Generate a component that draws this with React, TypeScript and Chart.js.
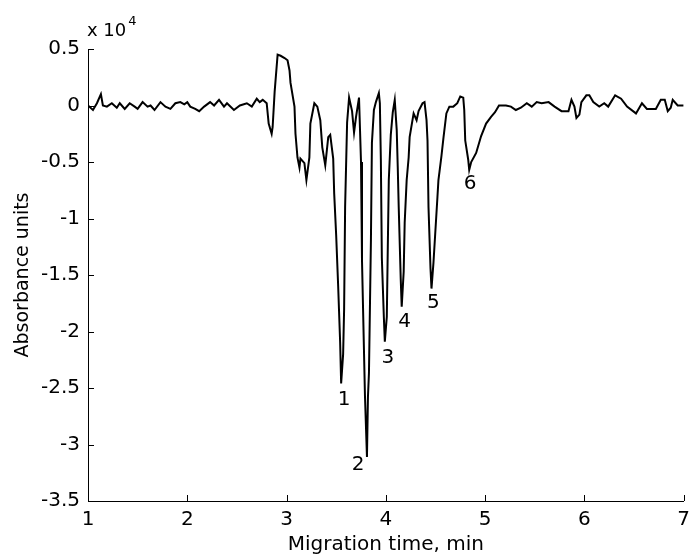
import React, { useEffect, useRef } from 'react';
import { Chart, registerables } from 'chart.js';

Chart.register(...registerables);

// Migration time (min)
const migrationTime = [
  1.00, 1.05, 1.09, 1.13, 1.15, 1.19, 1.24, 1.29, 1.32, 1.37, 1.42, 1.47, 1.50, 1.55, 1.60, 1.63,
  1.67, 1.73, 1.78, 1.83, 1.88, 1.93, 1.97, 2.00, 2.03, 2.08, 2.12, 2.17, 2.23, 2.27, 2.32, 2.37,
  2.40, 2.47, 2.53, 2.60, 2.65, 2.70, 2.73, 2.76, 2.80, 2.82, 2.85, 2.86, 2.88, 2.91, 2.94, 2.98,
  3.01, 3.03, 3.04, 3.08, 3.09, 3.11, 3.13, 3.14, 3.18, 3.20, 3.23, 3.24, 3.28, 3.31, 3.34, 3.36,
  3.39, 3.42, 3.44, 3.47, 3.48, 3.50, 3.52, 3.54, 3.55, 3.57, 3.58, 3.59, 3.61, 3.63, 3.66, 3.68,
  3.70, 3.73, 3.75, 3.76, 3.79, 3.81, 3.82, 3.83, 3.85, 3.86, 3.88, 3.90, 3.93, 3.94, 3.95, 3.96,
  3.98, 3.99, 4.01, 4.02, 4.03, 4.05, 4.07, 4.09, 4.11, 4.12, 4.13, 4.15, 4.16, 4.18, 4.19, 4.21,
  4.23, 4.24, 4.28, 4.31, 4.33, 4.37, 4.39, 4.41, 4.42, 4.43, 4.45, 4.46, 4.48, 4.50, 4.52, 4.53,
  4.56, 4.58, 4.61, 4.64, 4.68, 4.72, 4.75, 4.78, 4.79, 4.80, 4.83, 4.84, 4.86, 4.91, 4.96, 5.01,
  5.06, 5.10, 5.14, 5.21, 5.26, 5.31, 5.36, 5.42, 5.47, 5.52, 5.57, 5.64, 5.70, 5.77, 5.84, 5.87,
  5.90, 5.92, 5.95, 5.97, 6.02, 6.05, 6.09, 6.15, 6.20, 6.24, 6.31, 6.37, 6.43, 6.52, 6.58, 6.63,
  6.72, 6.77, 6.81, 6.84, 6.87, 6.89, 6.94, 6.98, 7.00,
];

// Absorbance units (x 10^4)
const absorbance = [
  0.00, -0.04, 0.02, 0.10, 0.00, -0.01, 0.02, -0.02, 0.02, -0.03, 0.02, -0.01, -0.03, 0.03, -0.01, 0.00,
  -0.04, 0.03, -0.01, -0.03, 0.02, 0.03, 0.01, 0.03, -0.01, -0.03, -0.05, -0.01, 0.03, 0.00, 0.05, -0.01,
  0.02, -0.04, 0.00, 0.02, -0.01, 0.06, 0.03, 0.05, 0.02, -0.16, -0.25, -0.19, 0.12, 0.45, 0.44, 0.42,
  0.40, 0.31, 0.20, -0.01, -0.25, -0.46, -0.55, -0.47, -0.51, -0.66, -0.46, -0.16, 0.02, -0.01, -0.13, -0.37,
  -0.53, -0.28, -0.26, -0.47, -0.78, -1.15, -1.60, -2.10, -2.46, -2.20, -1.80, -0.90, -0.15, 0.07, -0.05, -0.24,
  -0.10, 0.07, -0.50, -1.37, -2.57, -3.11, -2.58, -2.37, -1.19, -0.33, -0.04, 0.03, 0.11, 0.02, -0.48, -1.35,
  -1.87, -2.09, -1.87, -1.25, -0.66, -0.26, -0.06, 0.05, -0.22, -0.54, -0.90, -1.53, -1.78, -1.47, -1.04, -0.66,
  -0.46, -0.28, -0.07, -0.13, -0.05, 0.02, 0.03, -0.13, -0.31, -0.90, -1.44, -1.62, -1.39, -1.10, -0.81, -0.66,
  -0.45, -0.29, -0.07, -0.01, -0.01, 0.02, 0.08, 0.07, -0.04, -0.31, -0.48, -0.57, -0.50, -0.42, -0.27, -0.16,
  -0.10, -0.06, 0.00, 0.00, -0.01, -0.04, -0.02, 0.02, -0.01, 0.03, 0.02, 0.03, -0.01, -0.05, -0.05, 0.05,
  -0.01, -0.11, -0.08, 0.03, 0.09, 0.09, 0.03, -0.01, 0.02, -0.01, 0.09, 0.06, -0.01, -0.07, 0.02, -0.03,
  -0.03, 0.05, 0.05, -0.05, -0.02, 0.05, 0.00, 0.00, 0.00,
];

const peakLabels = ['1', '2', '3', '4', '5', '6'];
const peakLabelTime = [3.58, 3.72, 4.02, 4.19, 4.48, 4.85];
const peakLabelValue = [-2.60, -3.18, -2.23, -1.91, -1.75, -0.69];

const xMin = 1;
const xMax = 7;
const xStep = 1;
const yMin = -3.5;
const yMax = 0.5;
const yStep = 0.5;

const xTitle = 'Migration time, min';
const yTitle = 'Absorbance units';
const yMultiplierBase = 'x 10';
const yMultiplierExp = '4';

const FONT = '"DejaVu Sans", "Liberation Sans", Arial, sans-serif';

const decorPlugin = {
  id: 'decor',
  afterDraw(chart: any) {
    const ctx = chart.ctx;
    const xs = chart.scales.x;
    const ys = chart.scales.y;
    const area = chart.chartArea;
    ctx.save();
    ctx.strokeStyle = '#000';
    ctx.lineWidth = 1;
    xs.ticks.forEach((t: any) => {
      const px = Math.round(xs.getPixelForValue(t.value)) + 0.5;
      ctx.beginPath();
      ctx.moveTo(px, area.bottom);
      ctx.lineTo(px, area.bottom - 6);
      ctx.stroke();
    });
    ys.ticks.forEach((t: any) => {
      const py = Math.round(ys.getPixelForValue(t.value)) + 0.5;
      ctx.beginPath();
      ctx.moveTo(area.left, py);
      ctx.lineTo(area.left + 6, py);
      ctx.stroke();
    });
    ctx.fillStyle = '#000';
    ctx.font = `20px ${FONT}`;
    ctx.textAlign = 'center';
    ctx.textBaseline = 'middle';
    peakLabels.forEach((lbl, i) => {
      ctx.fillText(lbl, xs.getPixelForValue(peakLabelTime[i]), ys.getPixelForValue(peakLabelValue[i]));
    });
    ctx.textAlign = 'left';
    ctx.font = `18px ${FONT}`;
    const bx = area.left - 1;
    ctx.fillText(yMultiplierBase, bx, area.top - 18);
    const w = ctx.measureText(yMultiplierBase).width;
    ctx.font = `13px ${FONT}`;
    ctx.fillText(yMultiplierExp, bx + w + 2, area.top - 27);
    ctx.restore();
  },
};

export default function App() {
  const ref = useRef<HTMLCanvasElement | null>(null);
  useEffect(() => {
    if (!ref.current) return;
    const points = migrationTime.map((t, i) => ({ x: t, y: absorbance[i] }));
    const chart = new Chart(ref.current, {
      type: 'line',
      data: {
        datasets: [
          {
            data: points,
            borderColor: '#000',
            borderWidth: 2,
            pointRadius: 0,
            tension: 0,
            fill: false,
          },
        ],
      },
      options: {
        animation: false,
        responsive: false,
        parsing: false as any,
        layout: { padding: { left: 0, right: 7, top: 49, bottom: 0 } },
        plugins: { legend: { display: false }, tooltip: { enabled: false } },
        scales: {
          x: {
            type: 'linear',
            min: xMin,
            max: xMax,
            afterFit: (s: any) => { s.height = 56; },
            ticks: {
              stepSize: xStep,
              color: '#000',
              padding: 7,
              font: { family: FONT, size: 20 },
              maxRotation: 0,
            },
            grid: { display: true, drawOnChartArea: false, drawTicks: false },
            border: { display: true, color: '#000', width: 1 },
            title: {
              display: true,
              text: xTitle,
              color: '#000',
              font: { family: FONT, size: 20 },
              padding: { top: 0, bottom: 0 },
            },
          },
          y: {
            type: 'linear',
            min: yMin,
            max: yMax,
            afterFit: (s: any) => { s.width = 88; },
            ticks: {
              stepSize: yStep,
              color: '#000',
              padding: 8,
              font: { family: FONT, size: 20 },
              callback: (v: any) => String(Math.round(Number(v) * 10) / 10),
            },
            grid: { display: true, drawOnChartArea: false, drawTicks: false },
            border: { display: true, color: '#000', width: 1 },
            title: {
              display: true,
              text: yTitle,
              color: '#000',
              font: { family: FONT, size: 19 },
              padding: { top: 12, bottom: 0 },
            },
          },
        },
      },
      plugins: [decorPlugin],
    });
    return () => chart.destroy();
  }, []);
  return (
    <div style={{ position: 'absolute', left: 0, top: 0, width: 697, height: 557, background: '#fff' }}>
      <canvas ref={ref} width={697} height={557} style={{ width: 697, height: 557, display: 'block' }} />
    </div>
  );
}
